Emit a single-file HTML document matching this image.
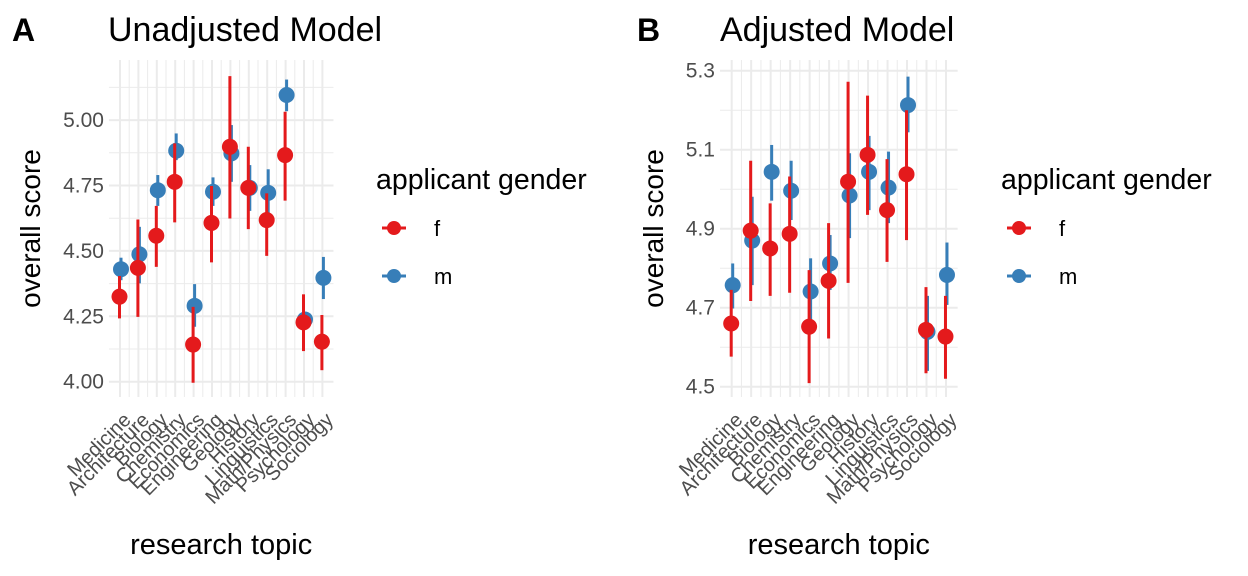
<!DOCTYPE html>
<html><head><meta charset="utf-8"><style>
body{margin:0;background:#fff;}
svg{display:block;font-family:"Liberation Sans",sans-serif;}
</style></head><body>
<svg id="chart" width="1248" height="576" viewBox="0 0 1248 576">
<g id="root"></g>
</svg>
<script>
const categories=["Medicine","Architecture","Biology","Chemistry","Economics","Engineering","Geology","History","Linguistics","Math/Physics","Psychology","Sociology"];
const aM=[4.430,4.487,4.732,4.883,4.290,4.726,4.873,4.741,4.722,5.096,4.238,4.397];
const aMlo=[4.388,4.376,4.672,4.847,4.210,4.672,4.764,4.653,4.634,5.034,4.21,4.316];
const aMhi=[4.474,4.592,4.790,4.949,4.373,4.781,4.981,4.828,4.812,5.155,4.26,4.477];
const aF=[4.325,4.435,4.558,4.764,4.142,4.607,4.898,4.741,4.618,4.866,4.227,4.153];
const aFlo=[4.242,4.248,4.439,4.609,3.996,4.456,4.624,4.583,4.481,4.692,4.117,4.044];
const aFhi=[4.404,4.620,4.672,4.911,4.286,4.748,5.168,4.898,4.720,5.032,4.334,4.255];
const bM=[4.757,4.870,5.044,4.996,4.741,4.812,4.984,5.044,5.004,5.213,4.639,4.783];
const bMlo=[4.698,4.757,4.971,4.922,4.665,4.745,4.876,4.947,4.914,5.144,4.540,4.707];
const bMhi=[4.812,4.981,5.112,5.072,4.825,4.884,5.091,5.135,5.095,5.285,4.730,4.865];
const bF=[4.660,4.895,4.850,4.887,4.652,4.768,5.019,5.087,4.947,5.038,4.644,4.627];
const bFlo=[4.576,4.717,4.730,4.738,4.509,4.622,4.763,4.935,4.816,4.871,4.534,4.520];
const bFhi=[4.745,5.072,4.964,5.032,4.795,4.914,5.272,5.237,5.076,5.200,4.752,4.730];
const aTicks=["4.00","4.25","4.50","4.75","5.00"];
const bTicks=["4.5","4.7","4.9","5.1","5.3"];

const NS="http://www.w3.org/2000/svg";
const root=document.getElementById('root');
function mk(tag,attrs,parent){const e=document.createElementNS(NS,tag);for(const k in attrs)e.setAttribute(k,attrs[k]);(parent||root).appendChild(e);return e;}
const RED="#E41A1C",BLUE="#377EB8";

function panel(o){
  const g=mk('g',{});
  
  
  const x=i=>o.x0+i*o.dx;
  const y=v=>o.y0-(v-o.v0)*o.ppu;
  const L=o.x0-o.dx*0.6, R=x(categories.length-1)+o.dx*0.6;
  const ticks=o.ticks.map(Number);
  const step=ticks[1]-ticks[0];
  for(let k=-1;k<ticks.length;k++){const v=ticks[0]+(k+0.5)*step;const yy=y(v);if(yy<o.top||yy>o.bot)continue;
    const ln=mk('line',{x1:L,x2:R,y1:yy,y2:yy,stroke:"#ebebeb","stroke-width":1},g);
    }
  for(let i=0;i<categories.length-1;i++){const xx=x(i+0.5);mk('line',{x1:xx,x2:xx,y1:o.top,y2:o.bot,stroke:"#ebebeb","stroke-width":1},g);}
  ticks.forEach((v,k)=>{const yy=y(v);
    const ln=mk('line',{x1:L,x2:R,y1:yy,y2:yy,stroke:"#ebebeb","stroke-width":2},g);
    
    const t=mk('text',{x:L-5,y:yy+7,"text-anchor":"end","font-size":21,fill:"#4d4d4d"},g);t.textContent=o.ticks[k];
    });
  categories.forEach((c,i)=>{const xx=x(i);
    mk('line',{x1:xx,x2:xx,y1:o.top,y2:o.bot,stroke:"#ebebeb","stroke-width":2},g);
    const t=mk('text',{x:0,y:0,"text-anchor":"end","font-size":20,fill:"#4d4d4d",transform:`translate(${xx+12},${o.bot+24}) rotate(-45)`},g);
    t.textContent=c;});
  const series=[[o.m,o.mlo,o.mhi,BLUE,1,'m'],[o.f,o.flo,o.fhi,RED,-0.5,'f']];
  series.forEach(s=>{s[0].forEach((v,i)=>{const xx=x(i)+s[4];
    const ln=mk('line',{x1:xx,x2:xx,y1:y(s[1][i]),y2:y(s[2][i]),stroke:s[3],"stroke-width":3},g);
    
    const c=mk('circle',{cx:xx,cy:y(v),r:8,fill:s[3]},g);
    });});
  const yt=mk('text',{x:0,y:0,"text-anchor":"middle","font-size":28,fill:"#000",transform:`translate(${o.ylabX},${(o.top+o.bot)/2}) rotate(-90)`},g);
  yt.textContent="overall score";
  const xt=mk('text',{x:(L+R)/2,y:554,"text-anchor":"middle","font-size":29,fill:"#000"},g);
  xt.textContent="research topic";
  const tt=mk('text',{x:o.titleX,y:41,"font-size":34,fill:"#000"},g);
  tt.textContent=o.title;
  const tg=mk('text',{x:o.tagX,y:41,"font-size":32,"font-weight":"bold",fill:"#000"},g);
  tg.textContent=o.tag;
  const lg=mk('g',{},g);
  const lt=mk('text',{x:o.legX,y:189,"font-size":28.5,fill:"#000"},lg);lt.textContent="applicant gender";
  
  [["f",RED,228],["m",BLUE,276]].forEach(e=>{
    const eg=mk('g',{},lg);
    mk('line',{x1:o.legX+6,x2:o.legX+30,y1:e[2],y2:e[2],stroke:e[1],"stroke-width":3},eg);
    mk('circle',{cx:o.legX+18,cy:e[2],r:7,fill:e[1]},eg);
    const t=mk('text',{x:o.legX+58,y:e[2]+8,"font-size":22,fill:"#000"},eg);t.textContent=e[0];});
}
panel({name:'panel-a-unadjusted',x0:120,dx:18.4,v0:4.0,y0:381.7,ppu:261.6,top:60,bot:397,ticks:aTicks,
  m:aM,mlo:aMlo,mhi:aMhi,f:aF,flo:aFlo,fhi:aFhi,ylabX:40,title:"Unadjusted Model",titleX:108,tag:"A",tagX:12,legX:376});
panel({name:'panel-b-adjusted',x0:731.7,dx:19.48,v0:4.5,y0:386.7,ppu:395,top:60,bot:397,ticks:bTicks,
  m:bM,mlo:bMlo,mhi:bMhi,f:bF,flo:bFlo,fhi:bFhi,ylabX:663,title:"Adjusted Model",titleX:720,tag:"B",tagX:637,legX:1001});
</script>
</body></html>
